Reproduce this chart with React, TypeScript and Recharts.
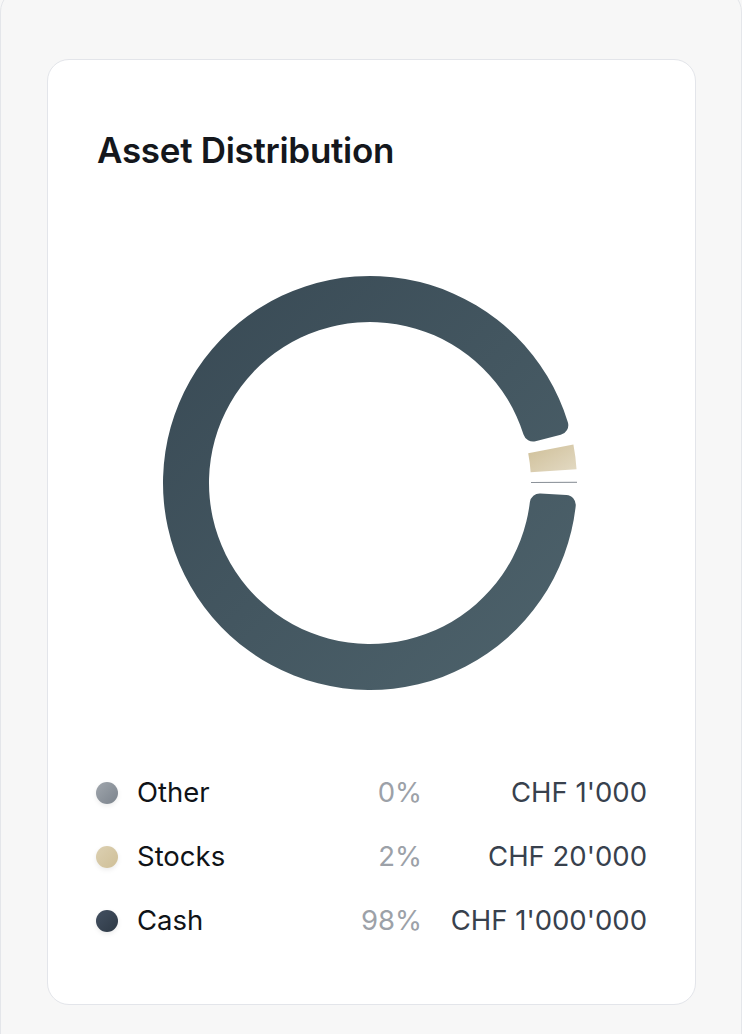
import { PieChart, Pie, Cell } from 'recharts';

const names = ['Other', 'Stocks', 'Cash'];
const amounts = [1000, 20000, 1000000];
// slice gradient stops (from, to)
const sliceFrom = ['#80878f', '#cfbf98', '#384954'];
const sliceTo = ['#a4a9af', '#e3dac4', '#4e636c'];
// legend dot gradient stops
const dotFrom = ['#7b838c', '#cfbf97', '#2e3945'];
const dotTo = ['#a0a6ad', '#dcd0b2', '#435061'];

const total = amounts.reduce((s, v) => s + v, 0);
const data = names.map((name, i) => ({ name, amount: amounts[i] }));

const fmt = (v: number) => 'CHF ' + String(v).replace(/\B(?=(\d{3})+(?!\d))/g, "'");
const pct = (v: number) => `${Math.round((v / total) * 100)}%`;

const FONT = 'Inter, "Noto Sans", sans-serif';

export default function App() {
  return (
    <div style={{ position: 'relative', width: 742, height: 1034, background: '#f7f7f7', overflow: 'hidden', fontFamily: FONT }}>
      <style>{'body{margin:0}'}</style>
      <div
        style={{
          position: 'absolute', left: 0, top: -12, width: 740, height: 1100,
          border: '1px solid #e4e6ea', borderRadius: 24, background: '#f7f7f7',
        }}
      />
      <div
        style={{
          position: 'absolute', left: 47, top: 59, width: 647, height: 944,
          border: '1px solid #e3e5ea', borderRadius: 22, background: '#fff',
        }}
      >
        <div
          style={{
            position: 'absolute', left: 49, top: 70, fontSize: 35, fontWeight: 600,
            color: '#14171c', lineHeight: '40px', letterSpacing: -0.3,
          }}
        >
          Asset Distribution
        </div>

        <div style={{ position: 'absolute', left: 102, top: 203 }}>
          <PieChart width={440} height={440}>
            <defs>
              {names.map((n, i) => (
                <linearGradient key={n} id={`g-${i}`} x1="0" y1="0" x2="1" y2="1">
                  <stop offset="0%" stopColor={sliceFrom[i]} />
                  <stop offset="100%" stopColor={sliceTo[i]} />
                </linearGradient>
              ))}
            </defs>
            <Pie
              data={data}
              dataKey="amount"
              nameKey="name"
              cx="50%"
              cy="50%"
              innerRadius={161}
              outerRadius={207}
              startAngle={0}
              endAngle={360}
              paddingAngle={3.5}
              cornerRadius={10}
              stroke="none"
              isAnimationActive={false}
            >
              {data.map((d, i) => (
                <Cell key={d.name} fill={`url(#g-${i})`} cornerRadius={d.name === 'Cash' ? 10 : 0} />
              ))}
            </Pie>
          </PieChart>
        </div>

        {names.map((n, i) => (
          <div
            key={n}
            style={{
              position: 'absolute', left: 0, top: 712 + i * 64, width: 647, height: 40,
              fontSize: 27.5, lineHeight: '40px',
            }}
          >
            <div
              style={{
                position: 'absolute', left: 48, top: 10, width: 22, height: 22, borderRadius: '50%',
                background: `linear-gradient(135deg, ${dotTo[i]} 0%, ${dotFrom[i]} 100%)`,
                boxShadow: '0 2px 5px rgba(0,0,0,0.08)',
              }}
            />
            <div style={{ position: 'absolute', left: 89, top: 0, color: '#101317' }}>{n}</div>
            <div style={{ position: 'absolute', right: 273, top: 0, color: '#9ca1a8' }}>{pct(amounts[i])}</div>
            <div style={{ position: 'absolute', right: 48, top: 0, color: '#38414d' }}>{fmt(amounts[i])}</div>
          </div>
        ))}
      </div>
    </div>
  );
}
